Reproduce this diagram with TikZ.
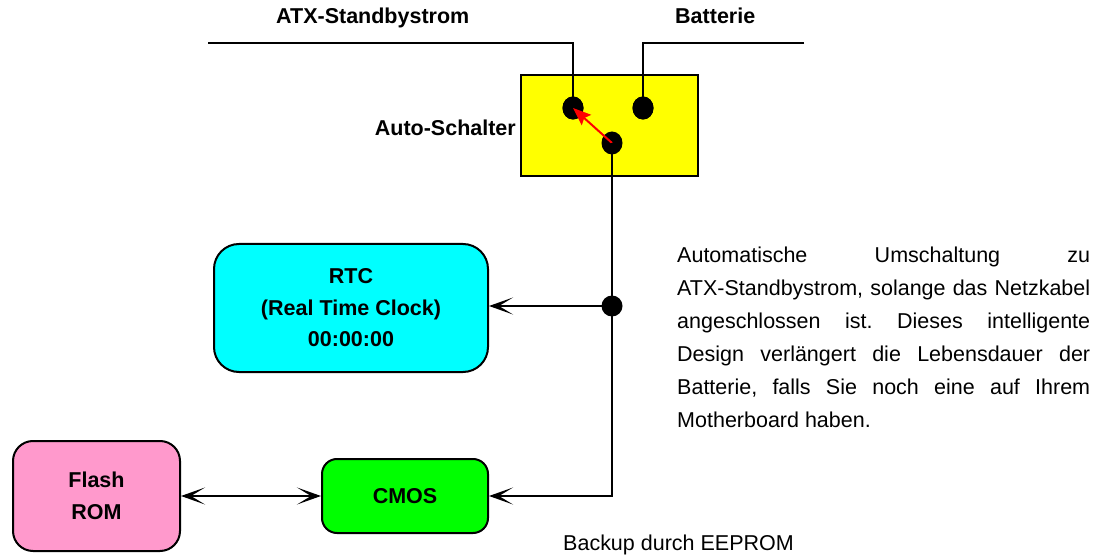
\documentclass[tikz,border=0pt]{standalone}
\usepackage{fontspec}
\setmainfont{Liberation Sans}
\usetikzlibrary{arrows.meta,shapes.geometric}
\definecolor{rtccol}{HTML}{00FFFF}
\definecolor{flashcol}{HTML}{FF99CC}
\definecolor{cmoscol}{HTML}{00FF00}
\definecolor{swcol}{HTML}{FFFF00}
\tikzset{
  tipb/.tip={Stealth[length=24pt,width=17pt,inset=14pt]},
  wire/.style={line width=2pt, black},
  barb/.style={-tipb},
  dbarb/.style={tipb-tipb},
  blockbox/.style={draw, line width=2pt, align=center, inner sep=0pt,
    font=\fontsize{21.5}{31.5}\selectfont\bfseries},
  pin/.style={ellipse, fill=black, minimum width=21pt, minimum height=23pt, inner sep=0pt},
  lbl/.style={inner sep=0pt, font=\fontsize{21.5}{26}\selectfont\bfseries},
  plain/.style={inner sep=0pt, font=\fontsize{21.5}{26}\selectfont},
}
\begin{document}
\begin{tikzpicture}[x=1pt,y=-1pt]
\useasboundingbox (0,0) rectangle (1117,556);
% switch box
\node[draw, fill=swcol, line width=2pt, minimum width=177pt, minimum height=101pt, inner sep=0pt] (sw) at (609.5,125.5) {};
% labels
\node[lbl, anchor=base west] (atxl) at (276,24) {ATX-Standbystrom};
\node[lbl, anchor=base west] (batl) at (675,24) {Batterie};
\node[lbl, anchor=base east] (autol) at (516,136) {Auto-Schalter};
\node[plain, anchor=base west] (backl) at (563,550) {Backup durch EEPROM};
% pins
\coordinate (atxs) at (208,43);
\coordinate (bate) at (804,43);
\node[pin] (pa) at (573,108) {};
\node[pin] (pb) at (643,108) {};
\node[pin] (pc) at (612,143) {};
\draw[wire] (atxs) -| (pa.center);
\draw[wire] (bate) -| (pb.center);
\node[pin] at (pa) {};
\node[pin] at (pb) {};
\draw[red, line width=2pt, -{Stealth[length=18pt,width=14pt,inset=3pt]}] (pc.center) -- (pa.center);
% blocks
\node[blockbox, fill=rtccol, rounded corners=25pt, minimum width=274pt, minimum height=128pt] (rtc) at (351,308) {RTC\\(Real Time Clock)\\00:00:00};
\node[blockbox, fill=flashcol, rounded corners=20pt, minimum width=167pt, minimum height=110pt] (flash) at (96.5,496) {Flash\\ROM};
\node[blockbox, fill=cmoscol, rounded corners=15pt, minimum width=166pt, minimum height=74pt] (cmos) at (405,496) {CMOS};
% junction
\node[circle, fill=black, minimum size=21pt, inner sep=0pt] (junc) at (612,306) {};
\draw[wire] (pc.center) -- (junc.center);
\draw[wire, barb] (junc.center) -- (junc -| rtc.east);
\draw[wire, barb] (junc.center) |- (cmos.east);
\draw[wire, dbarb] (flash.east) -- (cmos.west);
% paragraph
\node[inner sep=0pt, anchor=base west, text width=413pt, align=justify,
  font=\fontsize{21.5}{33.2}\selectfont] (para) at (677,262)
  {\frenchspacing\hyphenpenalty=10000\exhyphenpenalty=10000
   Automatische Umschaltung zu\linebreak
   ATX-Standbystrom, solange das Netzkabel\linebreak
   angeschlossen ist. Dieses intelligente\linebreak
   Design verlängert die Lebensdauer der\linebreak
   Batterie, falls Sie noch eine auf Ihrem\linebreak
   Motherboard haben.};
\end{tikzpicture}
\end{document}
